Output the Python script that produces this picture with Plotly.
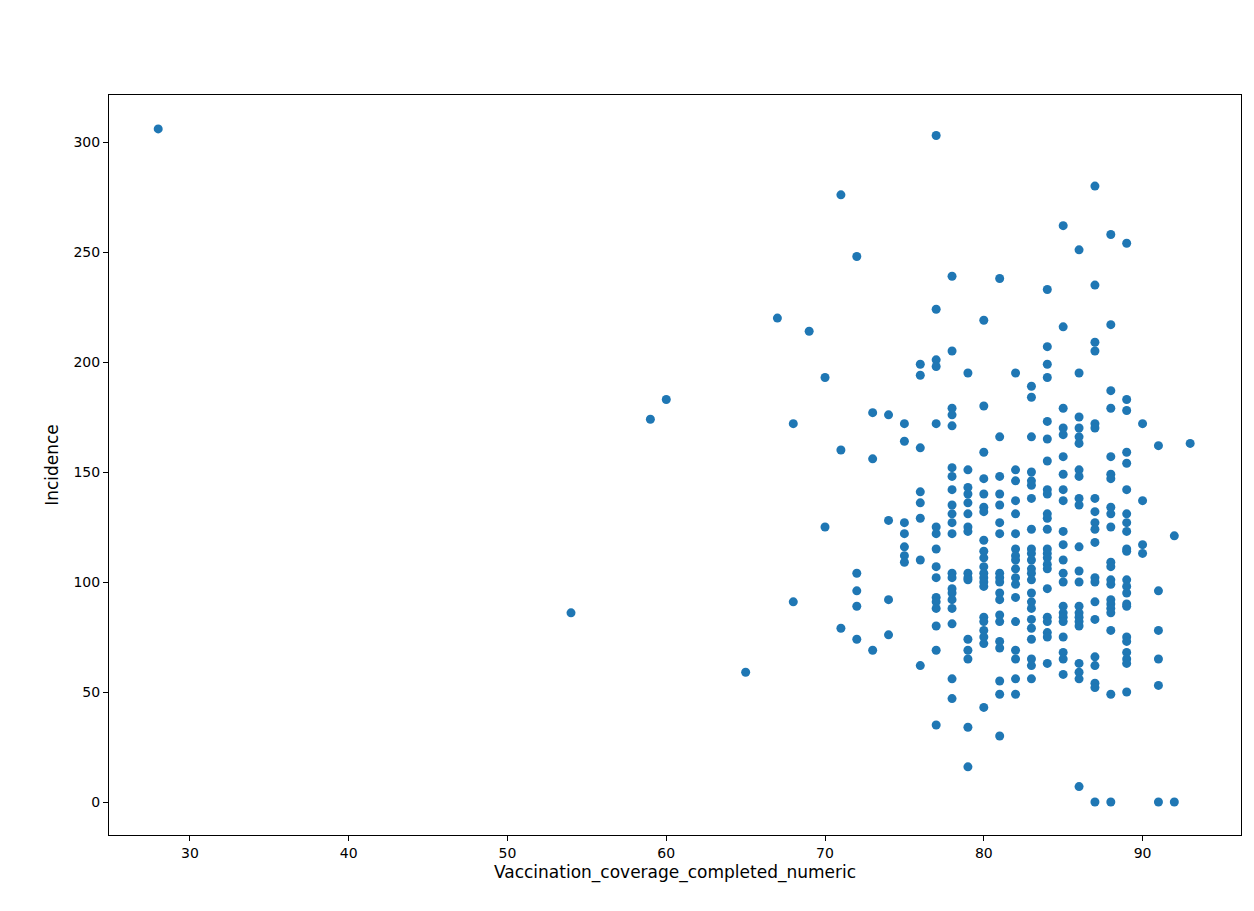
import plotly.graph_objects as go

columns = {
    28: [306], 54: [86], 59: [174], 60: [183], 65: [59], 67: [220],
    68: [172, 91], 69: [214], 70: [193, 125], 71: [276, 160, 79],
    72: [248, 104, 96, 89, 74], 73: [177, 156, 69], 74: [176, 128, 92, 76],
    75: [172, 164, 127, 122, 116, 112, 109],
    76: [199, 194, 161, 141, 136, 129, 110, 62],
    77: [303, 224, 201, 198, 172, 125, 122, 115, 107, 102, 93, 91, 88, 80, 69, 35],
    78: [239, 205, 179, 176, 171, 152, 148, 142, 135, 131, 127, 122, 104, 102, 97, 95, 92, 88, 81, 56, 47],
    79: [195, 151, 143, 140, 136, 131, 125, 123, 104, 102, 101, 74, 69, 65, 34, 16],
    80: [219, 180, 159, 147, 140, 134, 132, 119, 114, 111, 107, 104, 102, 100, 98, 84, 82, 78, 75, 72, 43],
    81: [238, 166, 148, 140, 135, 127, 122, 104, 102, 100, 95, 92, 85, 82, 73, 70, 55, 49, 30],
    82: [195, 151, 146, 137, 131, 122, 115, 112, 110, 106, 102, 99, 93, 82, 69, 65, 56, 49],
    83: [189, 184, 166, 150, 146, 144, 138, 124, 115, 113, 110, 106, 104, 101, 95, 91, 88, 83, 79, 74, 65, 62, 56],
    84: [233, 207, 199, 193, 173, 165, 155, 142, 140, 131, 129, 124, 115, 113, 111, 108, 106, 97, 84, 82, 77, 75, 63],
    85: [262, 216, 179, 170, 167, 157, 149, 142, 137, 123, 117, 110, 104, 100, 89, 86, 84, 82, 75, 68, 65, 58],
    86: [251, 195, 175, 170, 166, 163, 151, 148, 138, 135, 116, 105, 100, 89, 86, 84, 82, 80, 63, 59, 56, 7],
    87: [280, 235, 209, 205, 172, 170, 138, 132, 127, 124, 118, 102, 100, 91, 83, 66, 62, 54, 52, 0],
    88: [258, 217, 187, 179, 157, 149, 147, 134, 131, 125, 109, 107, 101, 99, 92, 90, 88, 86, 78, 49, 0],
    89: [254, 183, 178, 159, 154, 142, 131, 127, 123, 115, 114, 101, 98, 95, 90, 89, 75, 73, 68, 65, 63, 50],
    90: [172, 137, 117, 113], 91: [162, 96, 78, 65, 53, 0], 92: [121, 0], 93: [163],
}

coverage = [x for x, ys in columns.items() for _ in ys]
incidence = [y for ys in columns.values() for y in ys]

fig = go.Figure(go.Scatter(x=coverage, y=incidence, mode="markers",
                           marker=dict(color="#1f77b4", size=9, line=dict(width=0))))
ax = dict(showgrid=False, zeroline=False, showline=True, linecolor="black", linewidth=1,
          mirror=True, ticks="outside", ticklen=5, tickcolor="black",
          tickfont=dict(family="DejaVu Sans", size=14, color="black"))
fig.update_layout(
    width=1254, height=911, plot_bgcolor="white", paper_bgcolor="white",
    margin=dict(l=101, r=21, t=87, b=84), showlegend=False,
    font=dict(family="DejaVu Sans", size=14, color="black"),
    xaxis=dict(range=[24.9, 96.2], tickvals=[30, 40, 50, 60, 70, 80, 90],
               title=dict(text="Vaccination_coverage_completed_numeric", standoff=6), **ax),
    yaxis=dict(range=[-15, 321.4], tickvals=[0, 50, 100, 150, 200, 250, 300],
               title=dict(text="Incidence", standoff=10), **ax),
)
fig.write_html("out.html")
